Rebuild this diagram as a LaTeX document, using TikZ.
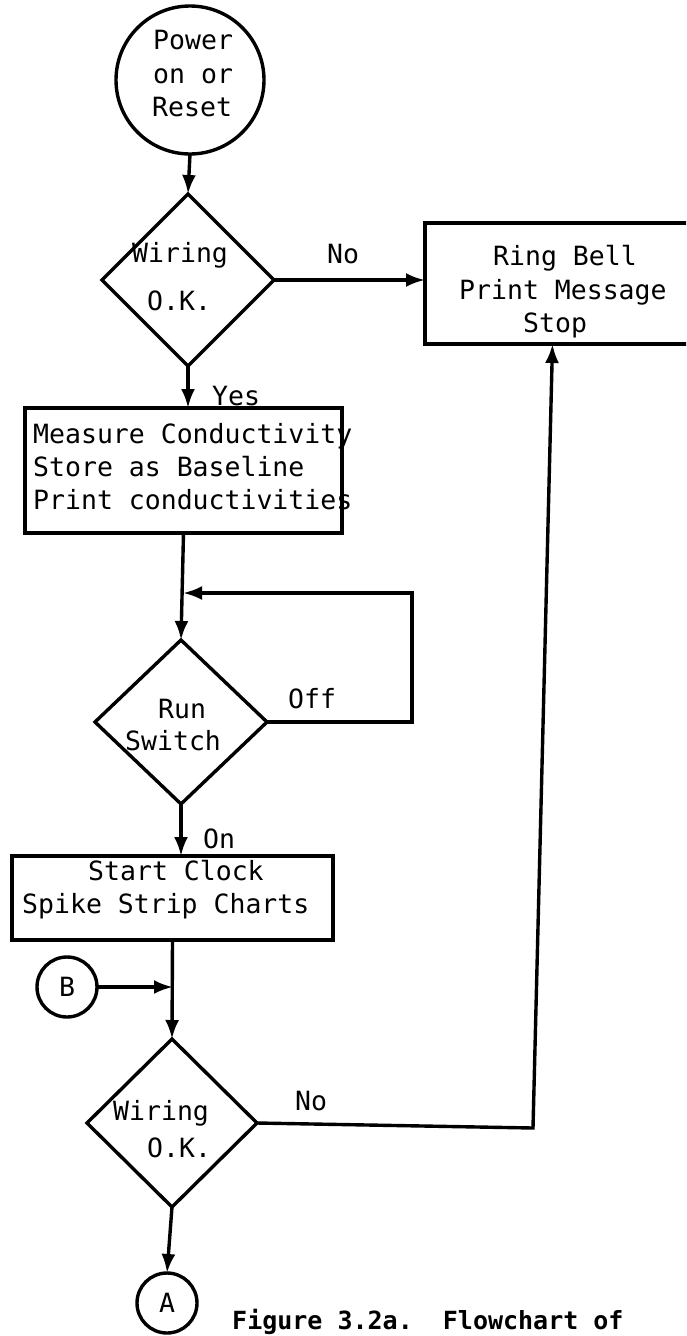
\documentclass[tikz,border=0pt]{standalone}
\usepackage{fontspec}
\setmonofont{DejaVu Sans Mono}
\usetikzlibrary{shapes.geometric,arrows.meta}
\tikzset{
  lw/.style={line width=3.4pt},
  arr/.style={lw,-{Latex[length=19pt,width=14pt]}},
  shp/.style={draw,lw,inner sep=0pt,outer sep=0pt},
  dia/.style={shp,diamond},
  boxx/.style={shp,rectangle},
  circ/.style={shp,circle},
  txt/.style={anchor=base west,inner sep=0pt,font=\ttfamily\fontsize{26.5}{33}\selectfont},
  captxt/.style={anchor=base west,inner sep=0pt,font=\ttfamily\bfseries\fontsize{25}{30}\selectfont}
}
\begin{document}
\begin{tikzpicture}[x=1pt,y=-1pt]
\useasboundingbox (0,0) rectangle (686,1336);
\clip (0,0) rectangle (686,1336);
\fill[white] (0,0) rectangle (686,1336);

% shapes
\node[circ,minimum size=148pt] (pwr) at (190,80) {};
\node[dia,minimum width=172pt,minimum height=172pt] (d1) at (188,280) {};
\node[boxx,minimum width=295pt,minimum height=121pt] (ring) at (572.5,283.5) {};
\node[boxx,minimum width=317pt,minimum height=125pt] (meas) at (183.5,470.5) {};
\node[dia,minimum width=172pt,minimum height=164pt] (d2) at (181,722) {};
\node[boxx,minimum width=321pt,minimum height=84pt] (start) at (172.5,898) {};
\node[circ,minimum size=60pt] (B) at (67,987) {};
\node[dia,minimum width=170pt,minimum height=168pt] (d3) at (172,1123) {};
\node[circ,minimum size=60pt] (A) at (167,1303) {};

% texts
\node[txt] (t1) at (153,49) {Power};
\node[txt] (t2) at (153,83) {on or};
\node[txt] (t3) at (152,116) {Reset};
\node[txt] (t4) at (132,262) {Wiring};
\node[txt] (t5) at (147,310) {O.K.};
\node[txt] (t6) at (327,263) {No};
\node[txt] (t7) at (493,265) {Ring Bell};
\node[txt] (t8) at (459,299) {Print Message};
\node[txt] (t9) at (523,332) {Stop};
\node[txt] (t10) at (212,405) {Yes};
\node[txt] (t11) at (33,443) {Measure Conductivity};
\node[txt] (t12) at (33,476) {Store as Baseline};
\node[txt] (t13) at (33,509) {Print conductivities};
\node[txt] (t14) at (158,718) {Run};
\node[txt] (t15) at (125,750) {Switch};
\node[txt] (t16) at (288,708) {Off};
\node[txt] (t17) at (203,848) {On};
\node[txt] (t18) at (88,880) {Start Clock};
\node[txt] (t19) at (22,913) {Spike Strip Charts};
\node[txt,anchor=center] (t20) at (B) {B};
\node[txt] (t21) at (113,1120) {Wiring};
\node[txt] (t22) at (147,1157) {O.K.};
\node[txt] (t23) at (295,1110) {No};
\node[txt,anchor=center] (t24) at (A) {A};
\node[captxt] (t25) at (232,1329) {Figure 3.2a.\ \ Flowchart of};

% connectors
\coordinate (J) at (183,593);
\coordinate (loopR) at (412,593);
\coordinate (cR) at (533,1128);
\coordinate (jB) at (173,987);

\draw[arr] (pwr.south) -- (d1.north);
\draw[arr] (d1.east) -- (d1.east -| ring.west);
\draw[arr] (d1.south) -- (d1.south |- meas.north);
\draw[arr] (meas.south) -- (d2.north);
\draw[arr] (d2.east) -- (d2.east -| loopR) -- (loopR) -- (J);
\draw[arr] (d2.south) -- (d2.south |- start.north);
\draw[arr] (start.south) -- (d3.north);
\draw[arr] (B.east) -- (jB);
\draw[arr] (d3.east) -- (cR) -- ([xshift=-20pt]ring.south);
\draw[arr] (d3.south) -- (A.north);
\end{tikzpicture}
\end{document}
